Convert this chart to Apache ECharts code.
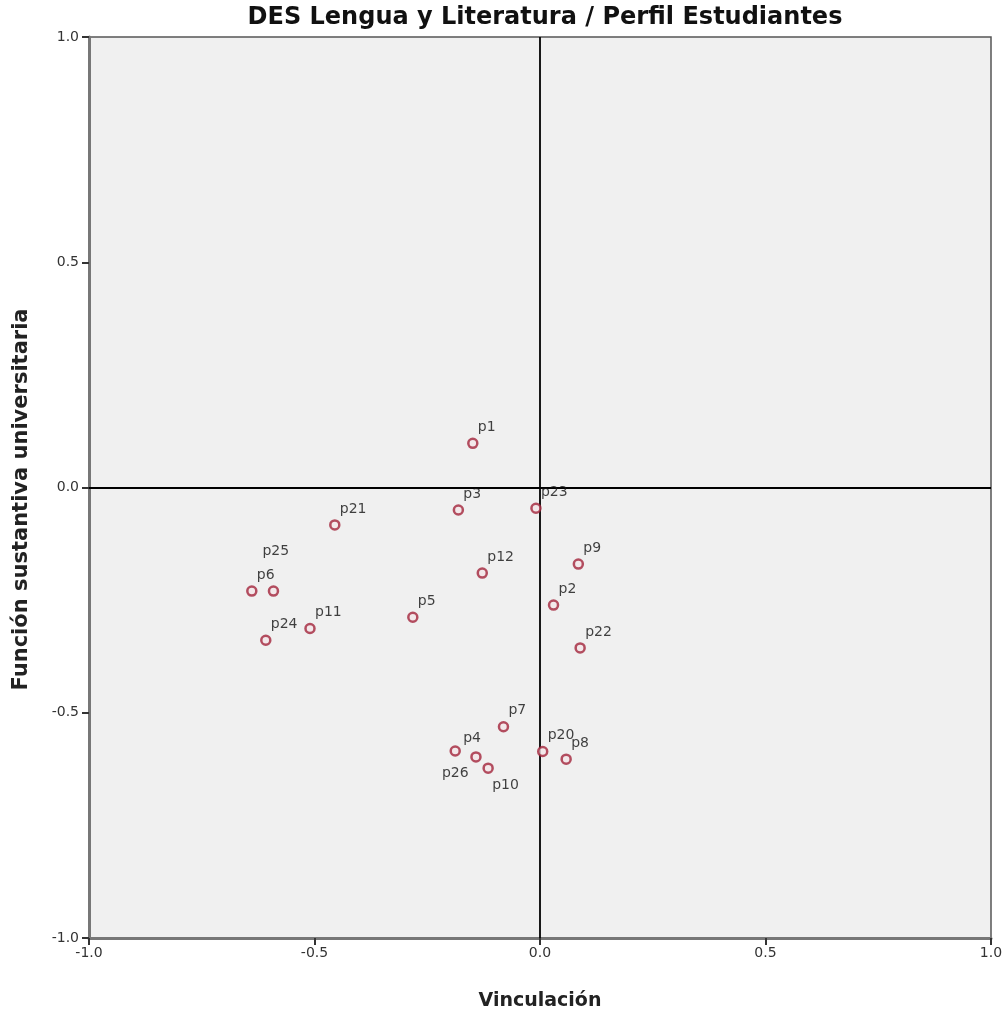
<!DOCTYPE html>
<html>
<head>
<meta charset="utf-8">
<script src="https://cdn.jsdelivr.net/npm/echarts@6/dist/echarts.min.js"></script>
<style>
  html, body { margin: 0; padding: 0; background: #fff; }
  #chart { width: 1005px; height: 1009px; }
</style>
</head>
<body>
<div id="chart"></div>
<script>
// point names and coordinates
const names = ['p1', 'p3', 'p23', 'p21', 'p12', 'p9', 'p6', 'p25', 'p2', 'p5', 'p11', 'p24', 'p22', 'p7', 'p4', 'p26', 'p10', 'p20', 'p8']
const vinculacion = [-0.149, -0.181, -0.009, -0.455, -0.128, 0.085, -0.639, -0.591, 0.030, -0.282, -0.510, -0.608, 0.089, -0.081, -0.188, -0.142, -0.115, 0.006, 0.058]
const funcion = [0.098, -0.050, -0.046, -0.083, -0.190, -0.170, -0.230, -0.230, -0.261, -0.288, -0.313, -0.339, -0.356, -0.531, -0.585, -0.598, -0.623, -0.586, -0.603]
const axisTicks = [-1.0, -0.5, 0.0, 0.5, 1.0]

// labels that are not placed up-right of their point
const labelOffsets = {
  p25: [-11, -40],
  p26: [-34, 16],
  p10: [4, 17],
  p4: [8, -13]
}

const chart = echarts.init(document.getElementById('chart'))

const points = names.map((n, i) => ({
  name: n,
  value: [vinculacion[i], funcion[i]],
  label: { offset: labelOffsets[n] || [5, -16] }
}))

const tickFmt = v => axisTicks.indexOf(v) >= 0 ? v.toFixed(1) : ''

chart.setOption({
  animation: false,
  title: {
    text: 'DES Lengua y Literatura / Perfil Estudiantes',
    left: 540,
    textAlign: 'center',
    top: 1,
    textStyle: {
      fontFamily: 'DejaVu Sans, sans-serif',
      fontSize: 24,
      fontWeight: 'bold',
      color: '#111'
    }
  },
  grid: {
    left: 89,
    right: 14,
    top: 37,
    bottom: 71,
    outerBoundsMode: 'none',
    containLabel: false,
    show: true,
    backgroundColor: '#f0f0f0',
    borderColor: '#555',
    borderWidth: 1.5
  },
  xAxis: {
    type: 'value',
    min: -1,
    max: 1,
    interval: 0.5,
    name: 'Vinculación',
    nameLocation: 'middle',
    nameGap: 54,
    nameTextStyle: {
      fontFamily: 'DejaVu Sans, sans-serif',
      fontSize: 19,
      fontWeight: 'bold',
      color: '#222'
    },
    axisLine: { show: true, onZero: false, lineStyle: { color: '#777', width: 3 } },
    axisTick: { show: true, length: 7, lineStyle: { color: '#333', width: 2 } },
    axisLabel: {
      formatter: tickFmt,
      fontFamily: 'DejaVu Sans, sans-serif',
      fontSize: 14,
      color: '#333',
      margin: 8
    },
    splitLine: { show: false }
  },
  yAxis: {
    type: 'value',
    min: -1,
    max: 1,
    interval: 0.5,
    name: 'Función sustantiva universitaria',
    nameLocation: 'middle',
    nameGap: 57,
    nameTextStyle: {
      fontFamily: 'DejaVu Sans, sans-serif',
      fontSize: 21,
      fontWeight: 'bold',
      color: '#222',
      padding: [0, 24, 0, 0]
    },
    axisLine: { show: true, onZero: false, lineStyle: { color: '#777', width: 3 } },
    axisTick: { show: true, length: 7, lineStyle: { color: '#333', width: 2 } },
    axisLabel: {
      formatter: tickFmt,
      fontFamily: 'DejaVu Sans, sans-serif',
      fontSize: 14,
      color: '#333',
      margin: 10
    },
    splitLine: { show: false }
  },
  series: [
    {
      type: 'scatter',
      symbol: 'circle',
      symbolSize: 9,
      itemStyle: {
        color: '#f4e6e8',
        borderColor: '#a3243b',
        borderWidth: 2.5
      },
      label: {
        show: true,
        formatter: '{b}',
        position: 'inside',
        align: 'left',
        verticalAlign: 'middle',
        fontFamily: 'DejaVu Sans, sans-serif',
        fontSize: 14,
        color: '#111'
      },
      markLine: {
        silent: true,
        symbol: 'none',
        label: { show: false },
        lineStyle: { color: '#000', width: 1.8, type: 'solid' },
        data: [{ xAxis: 0 }, { yAxis: 0 }]
      },
      data: points,
      z: 5
    }
  ]
})
</script>
</body>
</html>
